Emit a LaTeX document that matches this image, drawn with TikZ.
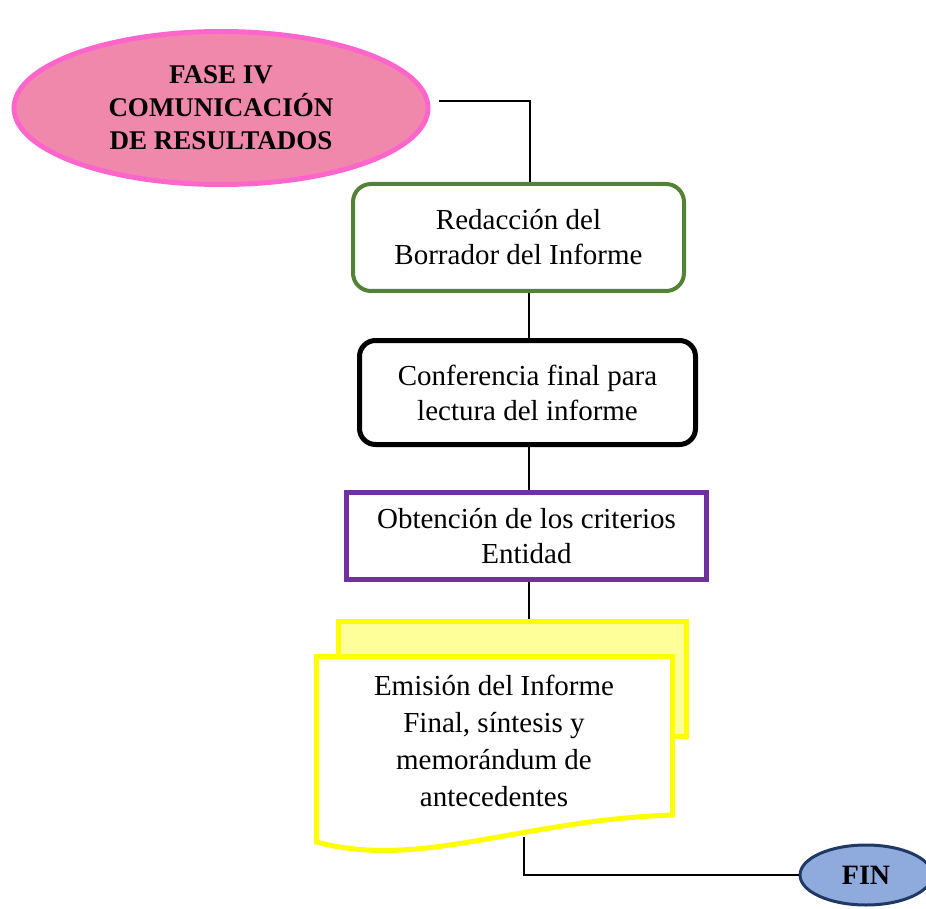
\documentclass[tikz,border=0pt]{standalone}
\usepackage{fontspec}
\setmainfont{Liberation Serif}
\usetikzlibrary{shapes.geometric}
\definecolor{pinkfill}{HTML}{F088AC}
\definecolor{pinkline}{HTML}{FF66CC}
\definecolor{greenline}{HTML}{548235}
\definecolor{purpleline}{HTML}{7030A0}
\definecolor{docyellow}{HTML}{FFFF00}
\definecolor{docfill}{HTML}{FFFF99}
\definecolor{finfill}{HTML}{8FAADC}
\definecolor{finline}{HTML}{203864}
\begin{document}
\begin{tikzpicture}[x=1pt,y=-1pt,
  txt/.style={font=\fontsize{29}{35}\selectfont, align=center, inner sep=0pt},
  boldtxt/.style={font=\fontsize{27}{33}\selectfont\bfseries, align=center, inner sep=0pt},
  stepbox/.style={draw, txt, line width=#1},
  link/.style={draw=black, line width=2.5pt}]
\useasboundingbox (0,0) rectangle (926,909);

% spine: the x position of the vertical connectors
\coordinate (spine) at (530,0);

% phase title
\node[ellipse, boldtxt, draw=pinkline, fill=pinkfill, line width=5pt,
      minimum width=414pt, minimum height=153pt] (fase) at (221,108)
  {FASE IV\\COMUNICACIÓN\\DE RESULTADOS};

% process steps
\node[stepbox=4pt, draw=greenline, rounded corners=18pt,
      minimum width=331pt, minimum height=107pt] (redac) at (518.5,237.5)
  {Redacción del\\Borrador del Informe};
\node[stepbox=5pt, draw=black, rounded corners=16pt,
      minimum width=336pt, minimum height=104pt] (confe) at (527.5,392.5)
  {Conferencia final para\\lectura del informe};
\node[stepbox=5pt, draw=purpleline,
      minimum width=360pt, minimum height=87pt] (obten) at (526.5,536)
  {Obtención de los criterios\\Entidad};

% stacked documents
\node[draw=docyellow, fill=docfill, line width=5pt, inner sep=0pt,
      minimum width=348pt, minimum height=115pt] (docback) at (512.5,679) {};
\draw[draw=docyellow, fill=white, line width=5pt, line join=miter]
  (316.5,842) -- (316.5,656.5) -- (672.5,656.5) -- (672.5,815)
  .. controls (520,820) and (420,870) .. (316.5,842) -- cycle;
\node[txt, font=\fontsize{29}{37}\selectfont] (emision) at (494,741)
  {Emisión del Informe\\Final, síntesis y\\memorándum de\\antecedentes};
\coordinate (docbottom) at (524,837);

% end terminal
\node[ellipse, draw=finline, fill=finfill, line width=3pt,
      font=\fontsize{28}{32}\selectfont\bfseries, inner sep=0pt,
      minimum width=132pt, minimum height=60pt] (fin) at (866,875) {FIN};

% connectors
\draw[link] ([shift={(8,-7)}]fase.east) -| (redac.north -| spine);
\draw[link] (redac.south -| 529,0) -- (confe.north -| 529,0);
\draw[link] (confe.south -| 529,0) -- (obten.north -| 529,0);
\draw[link] (obten.south -| 529,0) -- (docback.north -| 529,0);
\draw[link] (docbottom) |- (fin.west);
\end{tikzpicture}
\end{document}
